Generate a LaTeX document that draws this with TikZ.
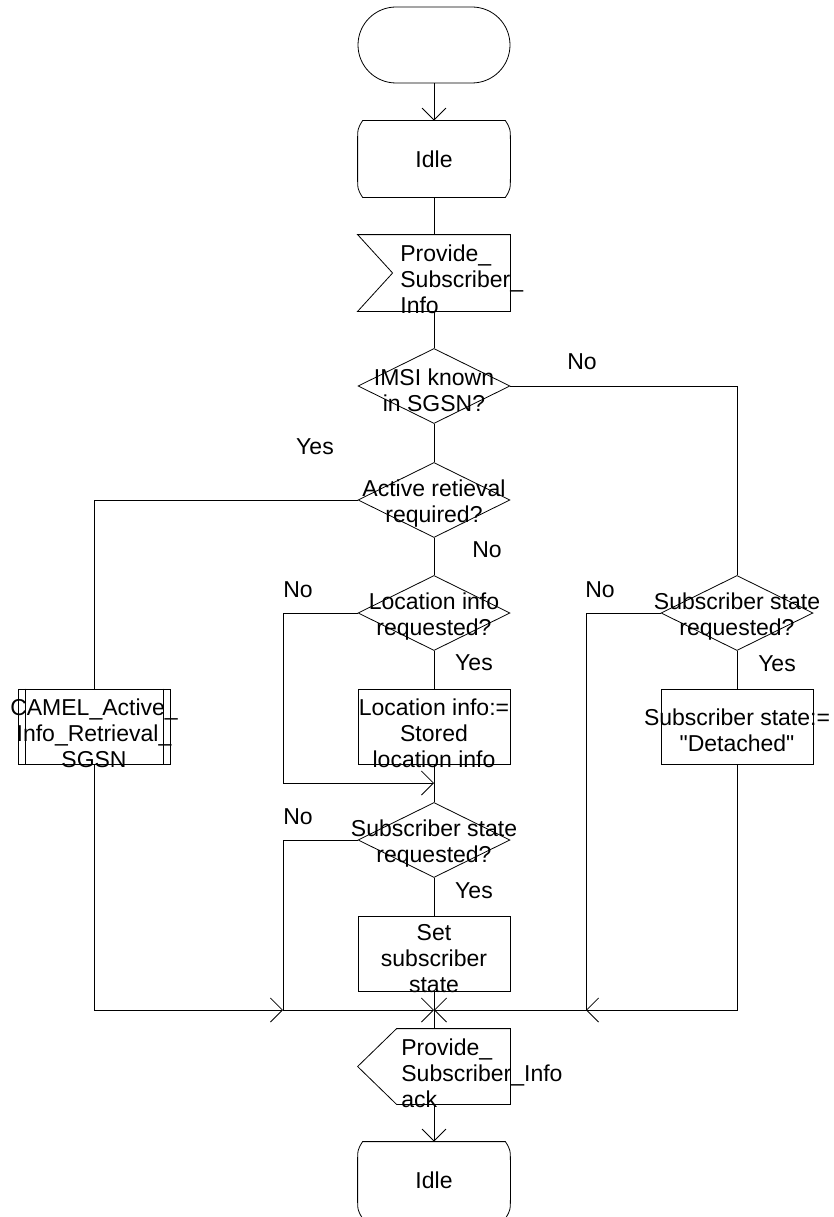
\documentclass[tikz,border=0pt]{standalone}
\usepackage{fontspec}
\setmainfont{Liberation Sans}
\usetikzlibrary{shapes.geometric,arrows.meta}

\newcommand{\drawstate}[1]{%
  \draw ([xshift=5pt]#1.north west) -- ([xshift=-5pt]#1.north east)
    .. controls ([yshift=-8pt]#1.north east) .. ([yshift=-22pt]#1.north east)
    -- ([yshift=22pt]#1.south east)
    .. controls ([yshift=8pt]#1.south east) .. ([xshift=-5pt]#1.south east)
    -- ([xshift=5pt]#1.south west)
    .. controls ([yshift=8pt]#1.south west) .. ([yshift=22pt]#1.south west)
    -- ([yshift=-22pt]#1.north west)
    .. controls ([yshift=-8pt]#1.north west) .. ([xshift=5pt]#1.north west) -- cycle;}

\begin{document}
\begin{tikzpicture}[
    x=1pt, y=-1pt,
    line width=0.8pt,
    every node/.style={font=\fontsize{23}{26}\selectfont},
    >={Straight Barb[length=12pt,width=24pt]},
    frame/.style={rectangle, minimum width=152pt, minimum height=76pt, inner sep=0pt},
    taskbox/.style={frame, draw, minimum height=75pt},
    decision/.style={diamond, draw, minimum width=152pt, minimum height=75pt, inner sep=0pt},
    txt/.style={align=center, inner sep=0pt},
    ltxt/.style={align=left, inner sep=0pt, anchor=west}
]
\useasboundingbox (0,0) rectangle (833,1217);

% shapes
\node[frame, draw, rounded corners=38pt] (start) at (434,45) {};
\node[frame] (idle1) at (434,159) {};
\drawstate{idle1}
\node[frame] (input) at (434,273) {};
\draw (input.north west) -- (input.north east) -- (input.south east)
  -- (input.south west) -- ([xshift=35pt]input.west) -- cycle;
\node[decision] (imsi) at (434,386) {};
\node[decision] (active) at (434,500) {};
\node[decision] (locreq) at (434,613) {};
\node[decision] (subreq2) at (737,613) {};
\node[taskbox] (camel) at (94,726.5) {};
\draw ([xshift=8pt]camel.north west) -- ([xshift=8pt]camel.south west);
\draw ([xshift=-7pt]camel.north east) -- ([xshift=-7pt]camel.south east);
\node[taskbox] (locset) at (434,726.5) {};
\node[taskbox] (detached) at (737,726.5) {};
\node[decision] (subreq1) at (434,840) {};
\node[taskbox] (setstate) at (434,953.5) {};
\node[frame, minimum height=75pt] (ack) at (434,1066.5) {};
\draw (ack.west) -- ([xshift=39pt]ack.north west) -- (ack.north east)
  -- (ack.south east) -- ([xshift=39pt]ack.south west) -- cycle;
\node[frame] (idle2) at (434,1180) {};
\drawstate{idle2}

% texts
\node[txt] (idle1-t) at (idle1) {Idle};
\node[ltxt] (input-t) at (400,279) {Provide\_\\Subscriber\_\\Info};
\node[txt] (imsi-t) at (434,390) {IMSI known\\in SGSN?};
\node[txt] (active-t) at (434,504) {Active retieval\\required?};
\node[txt] (locreq-t) at (434,617) {Location info\\requested?};
\node[txt] (subreq2-t) at (737,617) {Subscriber state\\requested?};
\node[txt] (camel-t) at (94,733) {CAMEL\_Active\_\\Info\_Retrieval\_\\SGSN};
\node[txt] (locset-t) at (434,733) {Location info:=\\Stored\\location info};
\node[txt] (detached-t) at (737,730) {Subscriber state:=\\\textquotedbl Detached\textquotedbl};
\node[txt] (subreq1-t) at (434,844) {Subscriber state\\requested?};
\node[txt] (setstate-t) at (434,959) {Set\\subscriber\\state};
\node[ltxt] (ack-t) at (401,1073) {Provide\_\\Subscriber\_Info\\ack};
\node[txt] (idle2-t) at (idle2) {Idle};

\node (imsi-no) at (582,362) {No};
\node (active-yes) at (315,447) {Yes};
\node (active-no) at (487,550) {No};
\node (locreq-no) at (298,590) {No};
\node (locreq-yes) at (474,663) {Yes};
\node (subreq2-no) at (600,590) {No};
\node (subreq2-yes) at (777,664) {Yes};
\node (subreq1-no) at (298,817) {No};
\node (subreq1-yes) at (474,891) {Yes};

% connectors
\coordinate (locbend) at (283,783);
\coordinate (locjoin) at (434,783);
\coordinate (mergeleft) at (283,1010);
\coordinate (merge) at (434,1010);
\coordinate (mergeright) at (586,1010);

\draw[->] (start.south) -- (idle1.north);
\draw (idle1.south) -- (input.north);
\draw (input.south) -- (imsi.north);
\draw (imsi.east) -| (subreq2.north);
\draw (imsi.south) -- (active.north);
\draw (active.west) -| (camel.north);
\draw (active.south) -- (locreq.north);
\draw (locreq.south) -- (locset.north);
\draw[->] (locreq.west) -| (locbend) -- (locjoin);
\draw (locset.south) -- (subreq1.north);
\draw (subreq1.south) -- (setstate.north);
\draw (subreq2.south) -- (detached.north);
\draw[->] (camel.south) |- (mergeleft);
\draw[->] (subreq1.west) -| (mergeleft) -- (merge);
\draw[->] (detached.south) |- (mergeright);
\draw[->] (subreq2.west) -| (mergeright) -- (merge);
\draw (setstate.south) -- (ack.north);
\draw[->] (ack.south) -- (idle2.north);
\end{tikzpicture}
\end{document}
